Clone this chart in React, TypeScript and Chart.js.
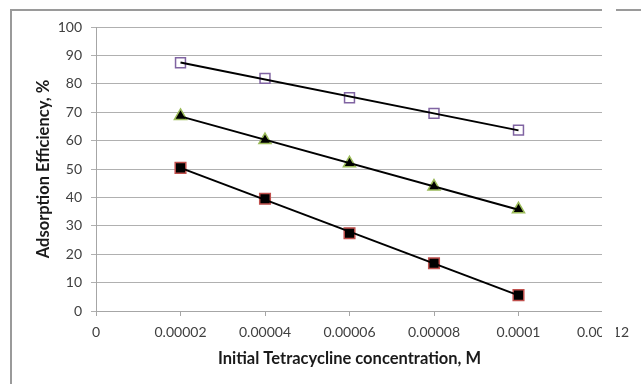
import React, { useEffect, useRef } from "react";
import { Chart, registerables } from "chart.js";

Chart.register(...registerables);

const concentrations = [0.00002, 0.00004, 0.00006, 0.00008, 0.0001];
const seriesTop = [87.4, 81.9, 75.1, 69.6, 63.7];
const seriesMiddle = [68.7, 60.2, 52.0, 43.8, 35.8];
const seriesBottom = [50.4, 39.5, 27.4, 16.8, 5.6];

const xTickValues = [0, 0.00002, 0.00004, 0.00006, 0.00008, 0.0001, 0.00012];
const xTickLabels = ["0", "0.00002", "0.00004", "0.00006", "0.00008", "0.0001", "0.00012"];

const FONT = "Lato, 'Open Sans', sans-serif";

function trend(xs: number[], ys: number[]) {
  const n = xs.length;
  const mx = xs.reduce((a, b) => a + b, 0) / n;
  const my = ys.reduce((a, b) => a + b, 0) / n;
  let sxy = 0, sxx = 0;
  for (let i = 0; i < n; i++) {
    sxy += (xs[i] - mx) * (ys[i] - my);
    sxx += (xs[i] - mx) * (xs[i] - mx);
  }
  const b = sxy / sxx;
  const a = my - b * mx;
  const x0 = xs[0], x1 = xs[n - 1];
  return [{ x: x0, y: a + b * x0 }, { x: x1, y: a + b * x1 }];
}

const pts = (ys: number[]) => concentrations.map((x, i) => ({ x, y: ys[i] }));

const framePlugin = {
  id: "frame",
  beforeDraw(chart: any) {
    const ctx = chart.ctx;
    ctx.save();
    ctx.fillStyle = "#ffffff";
    ctx.fillRect(0, 0, chart.width, chart.height);
    ctx.strokeStyle = "#9a9a9a";
    ctx.lineWidth = 2;
    ctx.beginPath();
    ctx.moveTo(11, chart.height);
    ctx.lineTo(11, 10);
    ctx.lineTo(chart.width, 10);
    ctx.stroke();
    ctx.restore();
  },
  afterDraw(chart: any) {
    const ctx = chart.ctx;
    ctx.save();
    ctx.fillStyle = "#ffffff";
    ctx.fillRect(602, 0, 14, chart.height);
    ctx.restore();
  },
};

export default function App() {
  const ref = useRef<HTMLCanvasElement | null>(null);
  useEffect(() => {
    document.body.style.margin = "0";
    const trendStyle = {
      type: "line" as const,
      borderColor: "#000000",
      borderWidth: 2,
      pointRadius: 0,
      showLine: true,
      fill: false,
      order: 0,
    };
    const chart = new Chart(ref.current as HTMLCanvasElement, {
      type: "scatter",
      data: {
        datasets: [
          { ...trendStyle, label: "trend top", data: trend(concentrations, seriesTop) },
          { ...trendStyle, label: "trend middle", data: trend(concentrations, seriesMiddle) },
          { ...trendStyle, label: "trend bottom", data: trend(concentrations, seriesBottom) },
          {
            label: "top",
            data: pts(seriesTop),
            pointStyle: "rect",
            pointRadius: 7,
            pointBackgroundColor: "#ffffff",
            pointBorderColor: "#8064A2",
            pointBorderWidth: 1.5,
            order: 1,
          },
          {
            label: "middle",
            data: pts(seriesMiddle),
            pointStyle: "triangle",
            pointRadius: 7,
            pointBackgroundColor: "#000000",
            pointBorderColor: "#9BBB59",
            pointBorderWidth: 1.5,
            order: 1,
          },
          {
            label: "bottom",
            data: pts(seriesBottom),
            pointStyle: "rect",
            pointRadius: 7.5,
            pointBackgroundColor: "#000000",
            pointBorderColor: "#C0504D",
            pointBorderWidth: 1.5,
            order: 1,
          },
        ],
      },
      options: {
        animation: false,
        responsive: false,
        maintainAspectRatio: false,
        layout: { padding: { left: 0, right: 38, top: 27, bottom: 0 } },
        plugins: { legend: { display: false }, tooltip: { enabled: false } },
        scales: {
          x: {
            type: "linear",
            min: 0,
            max: 0.00012,
            afterBuildTicks: (scale: any) => {
              scale.ticks = xTickValues.map((v) => ({ value: v }));
            },
            afterFit: (scale: any) => {
              scale.height = 73;
            },
            grid: { drawOnChartArea: false, drawTicks: true, tickLength: 5, color: "#a6a6a6" },
            border: { color: "#a6a6a6" },
            ticks: {
              padding: 8,
              maxRotation: 0,
              autoSkip: false,
              color: "#404040",
              font: { family: FONT, size: 14 },
              callback: (_v: any, i: number) => xTickLabels[i],
            },
            title: {
              display: true,
              text: "Initial Tetracycline concentration, M",
              color: "#1a1a1a",
              font: { family: FONT, size: 16.5, weight: "bold" },
              padding: { top: 0, bottom: 15 },
            },
          },
          y: {
            min: 0,
            max: 100,
            afterFit: (scale: any) => {
              scale.width = 96;
            },
            grid: { color: "#b0b0b0", tickLength: 5 },
            border: { color: "#a6a6a6" },
            ticks: {
              stepSize: 10,
              padding: 9,
              color: "#404040",
              font: { family: FONT, size: 14 },
            },
            title: {
              display: true,
              text: "Adsorption Efficiency, %",
              color: "#1a1a1a",
              font: { family: FONT, size: 16.5, weight: "bold" },
              padding: { top: 34, bottom: 0 },
            },
          },
        },
      },
      plugins: [framePlugin],
    } as any);
    return () => chart.destroy();
  }, []);
  return (
    <div style={{ width: 641, height: 384 }}>
      <canvas ref={ref} width={641} height={384} style={{ display: "block" }} />
    </div>
  );
}
